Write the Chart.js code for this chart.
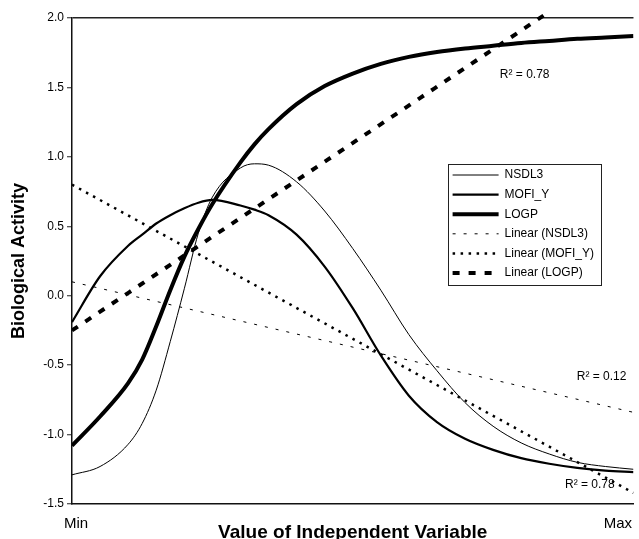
<!DOCTYPE html>
<html>
<head>
<meta charset="utf-8">
<script src="https://cdn.jsdelivr.net/npm/chart.js@4/dist/chart.umd.min.js"></script>
<style>
  html, body { margin: 0; padding: 0; background: #fff; }
  #wrap { width: 639px; height: 539px; position: relative; }
</style>
</head>
<body>
<div id="wrap"><canvas id="bioChart"></canvas></div>
<script>
// values (x runs from Min = 0 to Max = 1)
const xPositions = [0, 0.05, 0.1, 0.125, 0.15, 0.175, 0.2, 0.225, 0.25, 0.3, 0.325, 0.35, 0.4, 0.45, 0.5, 0.55, 0.6, 0.65, 0.7, 0.75, 0.8, 0.85, 0.9, 0.95, 1];
const nsdl3 = [-1.29, -1.23, -1.07, -0.92, -0.68, -0.33, 0.05, 0.45, 0.71, 0.92, 0.95, 0.94, 0.82, 0.61, 0.34, 0.04, -0.28, -0.54, -0.77, -0.94, -1.06, -1.14, -1.20, -1.23, -1.25];
const mofiY = [-0.19, 0.14, 0.36, 0.44, 0.52, 0.58, 0.63, 0.67, 0.69, 0.65, 0.62, 0.58, 0.44, 0.21, -0.09, -0.43, -0.72, -0.91, -1.03, -1.11, -1.17, -1.21, -1.24, -1.26, -1.27];
const logp = [-1.08, -0.87, -0.63, -0.46, -0.22, 0.04, 0.28, 0.48, 0.66, 0.96, 1.09, 1.20, 1.38, 1.51, 1.60, 1.67, 1.72, 1.755, 1.78, 1.80, 1.82, 1.835, 1.85, 1.86, 1.87];

const trendX = [0, 1];
const trendNsdl3 = [0.10, -0.84];
const trendMofiY = [0.80, -1.42];
const trendLogp = [-0.25, 2.45];

const xTickValues = [0, 0.965];
const xTickLabels = ['Min', 'Max'];

const r2Labels = ['R\u00B2 = 0.78', 'R\u00B2 = 0.12', 'R\u00B2 = 0.78'];
const r2X = [0.762, 0.899, 0.878];
const r2Y = [1.59, -0.58, -1.36];

function toPoints(xs, ys) {
    return xs.map(function(x, i) { return { x: x, y: ys[i] }; });
}

document.addEventListener('DOMContentLoaded', function() {
    const chartEl = document.getElementById('bioChart');
    if (!chartEl || !window.Chart) return;

    Chart.defaults.font.family = '"Liberation Sans", Arial, sans-serif';
    Chart.defaults.color = '#000';

    const LEG_PAD = 7.6;
    const LEG_FONT = 12;
    const LEG_SAMPLE = 46;

    // move the legend inside the plot, frame it and draw the line samples
    const legendBox = {
        id: 'legendBox',
        afterLayout(chart) {
            const lg = chart.legend;
            const a = chart.chartArea;
            if (!lg) return;
            lg.left = a.left + 373;
            lg.top = a.top + 143.4;
            lg.width = 170;
            lg.height = 150;
            lg.right = lg.left + lg.width;
            lg.bottom = lg.top + lg.height;
        },
        afterDraw(chart) {
            const a = chart.chartArea;
            const lg = chart.legend;
            const ctx = chart.ctx;
            ctx.save();
            ctx.strokeStyle = '#222';
            ctx.lineWidth = 1;
            ctx.strokeRect(a.left + 376.5, a.top + 146.5, 153, 121);
            chart.data.datasets.forEach(function(ds, i) {
                const y = lg.top + LEG_PAD + i * (LEG_FONT + LEG_PAD) + LEG_FONT / 2;
                const x = lg.left + LEG_PAD;
                ctx.beginPath();
                ctx.lineCap = 'butt';
                ctx.lineWidth = ds.borderWidth;
                ctx.strokeStyle = ds.borderColor;
                ctx.setLineDash(ds.borderDash || []);
                ctx.moveTo(x, y);
                ctx.lineTo(x + LEG_SAMPLE, y);
                ctx.stroke();
            });
            ctx.restore();
        }
    };

    // R² notes next to the trend lines
    const r2Notes = {
        id: 'r2Notes',
        afterDatasetsDraw(chart) {
            const ctx = chart.ctx;
            const xs = chart.scales.x, ys = chart.scales.y;
            ctx.save();
            ctx.font = '12px "Liberation Sans", Arial, sans-serif';
            ctx.fillStyle = '#000';
            ctx.textAlign = 'left';
            ctx.textBaseline = 'middle';
            r2Labels.forEach(function(txt, i) {
                ctx.fillText(txt, xs.getPixelForValue(r2X[i]), ys.getPixelForValue(r2Y[i]));
            });
            ctx.restore();
        }
    };

    const lineBase = { pointRadius: 0, pointHoverRadius: 0, borderColor: '#000', backgroundColor: '#000', fill: false, cubicInterpolationMode: 'monotone' };

    new Chart(chartEl, {
        type: 'line',
        data: {
            datasets: [
                Object.assign({}, lineBase, { label: 'NSDL3', data: toPoints(xPositions, nsdl3), borderWidth: 1 }),
                Object.assign({}, lineBase, { label: 'MOFI_Y', data: toPoints(xPositions, mofiY), borderWidth: 2.2 }),
                Object.assign({}, lineBase, { label: 'LOGP', data: toPoints(xPositions, logp), borderWidth: 4 }),
                Object.assign({}, lineBase, { label: 'Linear (NSDL3)', data: toPoints(trendX, trendNsdl3), borderWidth: 1, borderDash: [3, 8] }),
                Object.assign({}, lineBase, { label: 'Linear (MOFI_Y)', data: toPoints(trendX, trendMofiY), borderWidth: 2.5, borderDash: [2.5, 5.5] }),
                Object.assign({}, lineBase, { label: 'Linear (LOGP)', data: toPoints(trendX, trendLogp), borderWidth: 4, borderDash: [7, 9], clip: { left: 0, top: 5, right: 0, bottom: 0 } })
            ]
        },
        options: {
            responsive: true,
            maintainAspectRatio: false,
            animation: false,
            layout: { padding: { top: 18, right: 0, bottom: 0, left: 0 } },
            plugins: {
                legend: {
                    position: 'chartArea',
                    align: 'start',
                    labels: {
                        boxWidth: LEG_SAMPLE,
                        boxHeight: LEG_FONT,
                        padding: LEG_PAD,
                        color: '#000',
                        font: { size: LEG_FONT },
                        generateLabels: function(chart) {
                            const items = Chart.defaults.plugins.legend.labels.generateLabels(chart);
                            items.forEach(function(it) {
                                it.fillStyle = 'rgba(0,0,0,0)';
                                it.strokeStyle = 'rgba(0,0,0,0)';
                                it.lineWidth = 0;
                            });
                            return items;
                        }
                    }
                },
                tooltip: { enabled: false },
                title: { display: false }
            },
            scales: {
                x: {
                    type: 'linear',
                    min: 0,
                    max: 1,
                    afterBuildTicks: function(scale) {
                        scale.ticks = xTickValues.map(function(v) { return { value: v }; });
                    },
                    afterFit: function(scale) { scale.height = 35; },
                    grid: { display: false, drawTicks: false },
                    border: { display: true, color: '#111', width: 1.5 },
                    ticks: {
                        padding: 11,
                        labelOffset: 4,
                        maxRotation: 0,
                        autoSkip: false,
                        font: { size: 15 },
                        callback: function(v, i) { return xTickLabels[i]; }
                    },
                    title: {
                        display: true,
                        text: 'Value of Independent Variable',
                        font: { size: 19, weight: 'bold', lineHeight: 1 },
                        padding: { top: 0, bottom: -3 }
                    }
                },
                y: {
                    min: -1.5,
                    max: 2,
                    afterFit: function(scale) { scale.width = 72; },
                    grid: {
                        color: function(c) { return c.tick && c.tick.value === 2 ? '#222' : 'rgba(0,0,0,0)'; },
                        lineWidth: 1.5,
                        tickColor: '#222',
                        tickWidth: 1,
                        tickLength: 5
                    },
                    border: { display: true, color: '#111', width: 1.5 },
                    ticks: {
                        stepSize: 0.5,
                        padding: 3,
                        font: { size: 12 },
                        callback: function(v) { return Number(v).toFixed(1); }
                    },
                    title: {
                        display: true,
                        text: 'Biological Activity',
                        font: { size: 18, weight: 'bold' },
                        padding: { top: 8, bottom: 0 }
                    }
                }
            }
        },
        plugins: [legendBox, r2Notes]
    });
});
</script>
</body>
</html>
